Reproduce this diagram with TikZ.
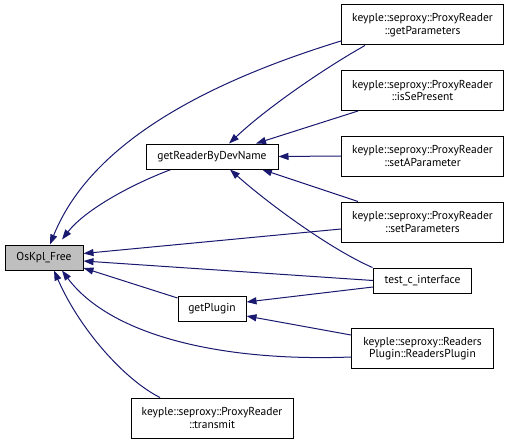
\documentclass[tikz,border=0pt]{standalone}
\usepackage{fontspec}
\setmainfont{PT Sans}
\usetikzlibrary{arrows.meta,calc}
\definecolor{edgec}{HTML}{191970}
\definecolor{nodefill}{HTML}{BFBFBF}
\begin{document}
\begin{tikzpicture}[x=1pt,y=-1pt,
  box/.style={draw=black,line width=1pt,fill=white,inner sep=0pt,minimum height=25pt,align=center,font=\fontsize{11.5}{12.5}\selectfont},
  tall/.style={box,minimum height=40pt,minimum width=162pt},
  edge/.style={draw=edgec,line width=1pt,-{Triangle[length=10pt,width=7pt]}}]
\useasboundingbox (0,0) rectangle (509,444);
% nodes (positions)
\node[box,fill=nodefill,minimum width=78pt] (osk) at (44,257.5) {OsKpl\_Free};
\node[box,minimum width=132pt] (grb) at (212,156.5) {getReaderByDevName};
\node[box,minimum width=68pt] (gpl) at (212,308.5) {getPlugin};
\node[tall] (gp) at (422.5,25) {keyple::seproxy::ProxyReader\\::getParameters};
\node[tall] (isp) at (422.5,90.5) {keyple::seproxy::ProxyReader\\::isSePresent};
\node[tall] (sap) at (422.5,156) {keyple::seproxy::ProxyReader\\::setAParameter};
\node[tall] (spa) at (422.5,222) {keyple::seproxy::ProxyReader\\::setParameters};
\node[box,minimum width=98pt] (tci) at (422.5,280.5) {test\_c\_interface};
\node[tall,minimum width=142pt] (rpl) at (422.5,348.5) {keyple::seproxy::Readers\\Plugin::ReadersPlugin};
\node[tall] (trm) at (212,418) {keyple::seproxy::ProxyReader\\::transmit};
% edges
\draw[edge] ($(gp.west)+(0,16)$) .. controls (191,87) and (88,150) .. ($(osk.north)+(6,0)$);
\draw[edge] ($(gp.south)+(-57.5,0)$) .. controls (330,65) and (270,105) .. ($(grb.north)+(17,0)$);
\draw[edge] ($(isp.south)+(-64.5,0)$) -- ($(grb.north)+(44,0)$);
\draw[edge] (sap.west) -- (grb.east);
\draw[edge] ($(spa.north)+(-64.5,0)$) -- ($(grb.south)+(50,0)$);
\draw[edge] ($(tci.north west)+(-0.5,0)$) .. controls (332,250) and (270,205) .. ($(grb.south)+(18,0)$);
\draw[edge] ($(grb.south)+(-41,0)$) .. controls (130,185) and (85,210) .. ($(osk.north)+(18,-5)$);
\draw[edge] ($(spa.west)+(0,7)$) -- ($(osk.east)+(0,-4)$);
\draw[edge] (tci.west) -- ($(osk.east)+(0,3.5)$);
\draw[edge] ($(gpl.west)+(0,-10.5)$) -- ($(osk.east)+(0,10.5)$);
\draw[edge] ($(tci.west)+(0,6.5)$) -- ($(gpl.east)+(0,-6.5)$);
\draw[edge] ($(rpl.west)+(0,-13.5)$) -- ($(gpl.east)+(0,7.5)$);
\draw[edge] ($(rpl.west)+(0,8.5)$) .. controls (220,362) and (110,335) .. ($(osk.south)+(18,0)$);
\draw[edge] ($(trm.north)+(-52,0)$) .. controls (125,380) and (80,330) .. ($(osk.south)+(10,0)$);
% redraw nodes on top
\node[box,fill=nodefill,minimum width=78pt] at (osk) {OsKpl\_Free};
\node[box,minimum width=132pt] at (grb) {getReaderByDevName};
\node[box,minimum width=68pt] at (gpl) {getPlugin};
\node[box,minimum width=98pt] at (tci) {test\_c\_interface};
\end{tikzpicture}
\end{document}
